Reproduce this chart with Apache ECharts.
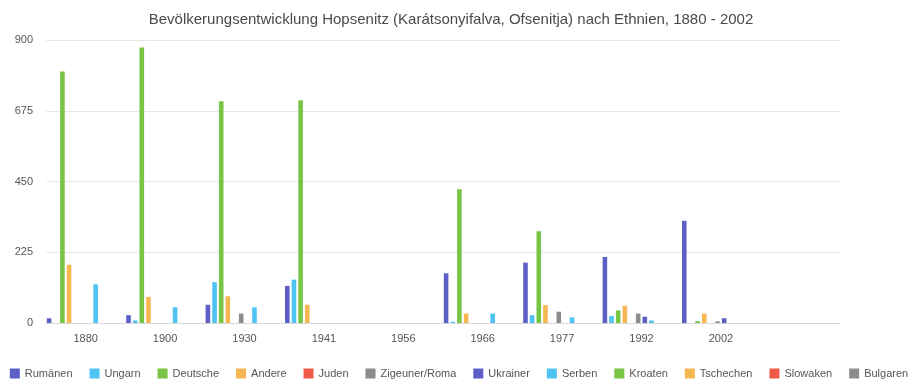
<!DOCTYPE html>
<html>
<head>
<meta charset="utf-8">
<script src="https://cdn.jsdelivr.net/npm/echarts@6/dist/echarts.min.js"></script>
<style>
html,body{margin:0;padding:0;background:#fff;}
#chart{width:918px;height:387px;}
</style>
</head>
<body>
<div id="chart"></div>
<script>
const years = ['1880','1900','1930','1941','1956','1966','1977','1992','2002'];
const yTicks = [0, 225, 450, 675, 900];

const rumaenen  = [15, 25, 58, 118, 0, 158, 192, 210, 325];
const ungarn    = [0, 8, 130, 138, 0, 4, 25, 22, 0];
const deutsche  = [800, 876, 705, 708, 0, 425, 292, 40, 6];
const andere    = [185, 83, 85, 58, 0, 30, 57, 55, 30];
const juden     = [0, 0, 0, 0, 0, 0, 0, 0, 0];
const zigeuner  = [0, 0, 30, 0, 0, 0, 36, 30, 5];
const ukrainer  = [0, 0, 0, 0, 0, 0, 0, 20, 15];
const serben    = [123, 50, 50, 0, 0, 30, 18, 8, 0];
const kroaten   = [0, 0, 0, 0, 0, 0, 0, 0, 0];
const tschechen = [0, 0, 0, 0, 0, 0, 0, 0, 0];
const slowaken  = [0, 0, 0, 0, 0, 0, 0, 0, 0];
const bulgaren  = [0, 0, 0, 0, 0, 0, 0, 0, 0];

const seriesDefs = [
  ['Rumänen', rumaenen, '#5c5fc6'],
  ['Ungarn', ungarn, '#4fc3f2'],
  ['Deutsche', deutsche, '#78c445'],
  ['Andere', andere, '#f6b652'],
  ['Juden', juden, '#f05a48'],
  ['Zigeuner/Roma', zigeuner, '#8c8c8c'],
  ['Ukrainer', ukrainer, '#5c5fc6'],
  ['Serben', serben, '#4fc3f2'],
  ['Kroaten', kroaten, '#78c445'],
  ['Tschechen', tschechen, '#f6b652'],
  ['Slowaken', slowaken, '#f05a48'],
  ['Bulgaren', bulgaren, '#8c8c8c']
];

const font = 'Helvetica, Arial, "Liberation Sans", sans-serif';
const chart = echarts.init(document.getElementById('chart'), null, {renderer: 'canvas'});
chart.setOption({
  animation: false,
  backgroundColor: '#ffffff',
  textStyle: {fontFamily: font},
  title: {
    text: 'Bevölkerungsentwicklung Hopsenitz (Karátsonyifalva, Ofsenitja) nach Ethnien, 1880 - 2002',
    left: 446, textAlign: 'center', top: 7,
    textStyle: {fontSize: 15, fontWeight: 'normal', color: '#4a4a4a', fontFamily: font}
  },
  legend: {
    bottom: 3, left: 'center',
    itemWidth: 10, itemHeight: 10, itemGap: 17,
    icon: 'rect',
    textStyle: {fontSize: 11, color: '#555', fontFamily: font},
    data: seriesDefs.map(s => s[0])
  },
  grid: {left: 46, right: 78, top: 40, bottom: 64, containLabel: false},
  xAxis: {
    type: 'category',
    data: years,
    max: 9,
    axisLine: {lineStyle: {color: '#d8d8d8'}},
    axisTick: {show: false},
    axisLabel: {interval: 0, margin: 10, fontSize: 11, color: '#555', fontFamily: font,
      formatter: v => (v === undefined || v === null) ? '' : v}
  },
  yAxis: {
    type: 'value',
    min: yTicks[0], max: yTicks[yTicks.length - 1], interval: 225,
    axisLine: {show: false},
    axisTick: {show: false},
    splitLine: {lineStyle: {color: '#e8e8e8'}},
    axisLabel: {margin: 13, fontSize: 11, color: '#555', fontFamily: font}
  },
  series: seriesDefs.map(s => ({
    name: s[0], type: 'bar', data: s[1],
    barCategoryGap: '2%', barGap: '45%',
    itemStyle: {color: s[2]}
  }))
});
</script>
</body>
</html>
